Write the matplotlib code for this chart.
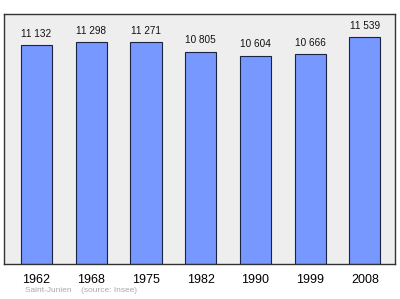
import matplotlib.pyplot as plt

plt.rcParams['font.family'] = ['Liberation Sans', 'DejaVu Sans']

years = ['1962', '1968', '1975', '1982', '1990', '1999', '2008']
population = [11132, 11298, 11271, 10805, 10604, 10666, 11539]
labels = ['11 132', '11 298', '11 271', '10 805', '10 604', '10 666', '11 539']

fig = plt.figure(figsize=(4, 2.99), dpi=100)
ax = fig.add_axes([0.01, 0.117, 0.9775, 0.836])
ax.set_facecolor('#eeeeee')

x = list(range(len(years)))
ax.bar(x, population, width=0.57, color='#7799ff', edgecolor='#1a2440', linewidth=0.8, zorder=2)

# value above each bar
for xi, v, lab in zip(x, population, labels):
    ax.annotate(lab, (xi, v), xytext=(0, 8), textcoords='offset points',
                ha='center', va='center', fontsize=7.2, color='#111111')

ax.set_xlim(-0.594, 6.55)
ax.set_ylim(0, 12714)
ax.set_yticks([])
ax.set_xticks(x)
ax.set_xticklabels(years, fontsize=9)
ax.tick_params(axis='x', length=0, pad=7)
for s in ax.spines.values():
    s.set_color('#333333')
    s.set_linewidth(1)

fig.text(25 / 400, 1 - 291 / 299, 'Saint-Junien    (source: Insee)', fontsize=6,
         color='#aaaaaa', va='center', ha='left')

fig.savefig('out.png', dpi=100)
